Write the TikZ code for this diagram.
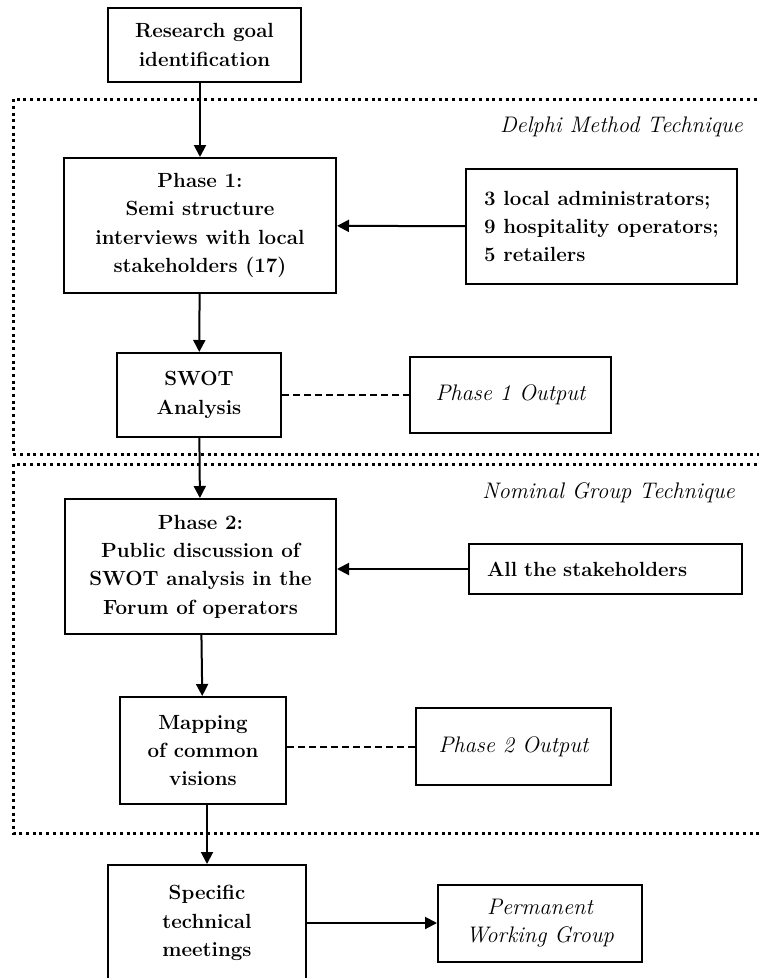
\documentclass[tikz,border=0pt]{standalone}
\usepackage{fontspec}
\usepackage{tikz}
\usetikzlibrary{arrows.meta, positioning}
\tikzset{
  stage/.style={rectangle, draw=black, line width=2pt, inner sep=0pt, align=center, font=\fontsize{20.5}{28.3}\selectfont\bfseries},
  source/.style={stage, align=left},
  output/.style={rectangle, draw=black, line width=2pt, inner sep=0pt, align=center, font=\fontsize{22.5}{28}\selectfont\itshape},
  tech/.style={font=\fontsize{22.5}{28}\selectfont\itshape, inner sep=0pt},
  region/.style={line width=3pt, dash pattern=on 3pt off 3.7pt},
  arrow/.style={line width=2pt, -{Triangle[length=12pt, width=12pt]}},
  link/.style={line width=2pt, dash pattern=on 7pt off 4pt}
}

\begin{document}
\begin{tikzpicture}[x=1pt, y=-1pt, node distance=60pt]
\useasboundingbox (0,0) rectangle (759,978);
% dotted frames of the two techniques
\draw[region] (790,99) -| (13,454) -- (790,454);
\draw[region] (790,464) -| (13,833) -- (790,833);
\node[tech, anchor=east] (delphi) at (743,127) {Delphi Method Technique};
\node[tech, anchor=east] (nominal) at (735,493) {Nominal Group Technique};

\node[stage, minimum width=193pt, minimum height=74pt] (research) at (204.5,45) {Research goal\\identification};
\node[stage, minimum width=272pt, minimum height=135pt, below=74pt of research, xshift=-4.5pt] (phase1) {Phase 1:\\Semi structure\\interviews with local\\stakeholders (17)};
\node[source, minimum width=271pt, minimum height=115pt, right=128pt of phase1, yshift=-1pt] (locals) {3 local administrators;\\9 hospitality operators;\\5 retailers};
\node[stage, minimum width=164pt, minimum height=84pt, below=58pt of phase1, xshift=-1pt] (swot) {SWOT\\Analysis};
\node[output, minimum width=201pt, minimum height=76pt, right=127pt of swot] (out1) {Phase 1 Output};
\node[stage, minimum width=271pt, minimum height=135pt, below=60pt of swot, xshift=1.5pt] (phase2) {Phase 2:\\Public discussion of\\SWOT analysis in the\\Forum of operators};
\node[stage, minimum width=273pt, minimum height=50pt, text width=237pt, align=left, right=131pt of phase2, yshift=-2.5pt] (allst) {All the stakeholders};
\node[stage, minimum width=166pt, minimum height=107pt, below=61pt of phase2, xshift=2.5pt] (mapping) {Mapping\\of common\\visions};
\node[output, minimum width=195pt, minimum height=77pt, right=128pt of mapping, yshift=4pt] (out2) {Phase 2 Output};
\node[stage, minimum width=198pt, minimum height=116pt, below=59pt of mapping, xshift=4pt] (meetings) {Specific\\technical\\meetings};
\node[output, minimum width=204pt, minimum height=77pt, right=130pt of meetings] (pwg) {Permanent\\Working Group};

\draw[arrow] (phase1.north |- research.south) -- (phase1.north);
\draw[arrow] (phase1) -- (swot);
\draw[arrow] (swot) -- (phase2);
\draw[arrow] (phase2) -- (mapping);
\draw[arrow] (mapping.south -| meetings.north) -- (meetings.north);
\draw[arrow] (locals) -- (phase1);
\draw[arrow] (allst.west) -- (allst.west -| phase2.east);
\draw[arrow] (meetings) -- (pwg);
\draw[link] (swot) -- (out1);
\draw[link] (out2.west -| mapping.east) -- (out2.west);
\end{tikzpicture}
\end{document}
